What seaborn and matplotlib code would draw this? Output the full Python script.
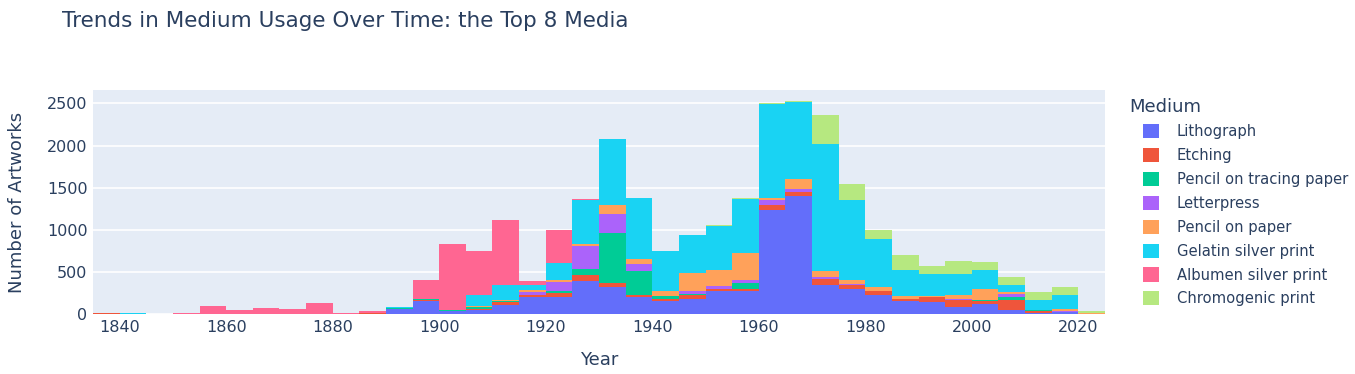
import matplotlib
matplotlib.use('Agg')
import matplotlib.pyplot as plt
import seaborn as sns
import pandas as pd
from matplotlib.patches import Patch

# 5-year bins, start years 1835 ... 2020
bin_starts = list(range(1835, 2025, 5))

media = ["Lithograph", "Etching", "Pencil on tracing paper", "Letterpress",
         "Pencil on paper", "Gelatin silver print", "Albumen silver print",
         "Chromogenic print"]
colors = ["#636EFA", "#EF553B", "#00CC96", "#AB63FA",
          "#FFA15A", "#19D3F3", "#FF6692", "#B6E880"]

lithograph = [0, 0, 0, 0, 0, 0, 0, 0, 0, 0, 0, 60, 160, 35, 52, 111, 206, 206, 397,
              326, 206, 159, 183, 270, 270, 1235, 1406, 348, 300, 229, 158, 146, 87,
              122, 51, 16, 28, 0]
etching = [10, 0, 0, 0, 0, 0, 0, 0, 0, 0, 12, 5, 12, 5, 12, 36, 24, 40, 64,
           40, 24, 24, 48, 32, 32, 60, 43, 71, 40, 40, 24, 59, 83,
           36, 119, 24, 0, 0]
tracing = [0, 0, 0, 0, 0, 0, 0, 0, 0, 0, 0, 3, 6, 12, 20, 12, 0, 24, 71,
           596, 286, 36, 12, 0, 64, 0, 0, 0, 0, 0, 0, 0, 0,
           12, 36, 12, 0, 0]
letterpress = [0, 0, 0, 0, 0, 0, 0, 0, 0, 0, 0, 0, 0, 0, 0, 0, 36, 115, 274,
               222, 75, 0, 36, 36, 32, 56, 36, 24, 20, 8, 0, 0, 12,
               0, 36, 0, 4, 0]
pencil_paper = [0, 0, 0, 0, 0, 0, 0, 0, 0, 0, 0, 0, 0, 0, 10, 10, 24, 24, 24,
                111, 67, 52, 206, 190, 326, 24, 119, 71, 47, 47, 36, 12, 47,
                130, 24, 0, 32, 12]
gelatin = [0, 10, 0, 0, 0, 0, 0, 0, 0, 0, 0, 20, 0, 0, 127, 179, 60, 195, 524,
           786, 715, 472, 453, 512, 639, 1120, 912, 1505, 948, 569, 308, 261, 249,
           225, 83, 119, 166, 0]
albumen = [0, 0, 0, 8, 100, 44, 67, 56, 127, 8, 20, 0, 220, 774, 533, 764, 36, 389, 12,
           0, 0, 0, 0, 0, 0, 0, 0, 0, 0, 0, 0, 0, 0,
           0, 0, 0, 0, 0]
chromogenic = [0, 0, 0, 0, 0, 0, 0, 0, 0, 0, 0, 0, 0, 0, 0, 0, 0, 0, 0,
               0, 0, 0, 0, 12, 12, 12, 12, 348, 190, 107, 178, 95, 154,
               95, 95, 95, 95, 28]

series = [lithograph, etching, tracing, letterpress, pencil_paper,
          gelatin, albumen, chromogenic]

rows = []
for name, vals in zip(media, series):
    for start, v in zip(bin_starts, vals):
        rows.append({"Year": start + 2.5, "Medium": name, "Count": v})
df = pd.DataFrame(rows)

TXT = "#2a3f5f"
sns.set_style("darkgrid", {"axes.facecolor": "#E5ECF6", "grid.color": "white"})
plt.rcParams['font.family'] = ['DejaVu Sans']

fig = plt.figure(figsize=(13.55, 3.74), dpi=100)
ax = fig.add_axes([93 / 1355, 60 / 374, 1012 / 1355, 224 / 374])

# seaborn stacks the last hue level at the bottom, so reverse the order
sns.histplot(data=df, x="Year", weights="Count", hue="Medium",
             hue_order=media[::-1], palette=dict(zip(media, colors)),
             multiple="stack", binwidth=5, binrange=(1835, 2025),
             linewidth=0, alpha=1, legend=False, ax=ax)

ax.set_xlim(1835, 2025)
ax.set_ylim(0, 2660)
ax.set_xticks(range(1840, 2021, 20))
ax.set_yticks(range(0, 2501, 500))
ax.grid(axis="x", visible=False)
ax.grid(axis="y", color="white", linewidth=1.2)
for s in ax.spines.values():
    s.set_visible(False)
ax.tick_params(length=0, labelsize=11.5, labelcolor=TXT, pad=4)
ax.set_xlabel("Year", fontsize=13, color=TXT, labelpad=12)
ax.set_ylabel("Number of Artworks", fontsize=13, color=TXT, labelpad=15)

fig.text(62 / 1355, 1 - 21 / 374, "Trends in Medium Usage Over Time: the Top 8 Media",
         fontsize=15.5, color=TXT, va="center", ha="left")

# legend: title placed separately so the entries can be indented
fig.text(1129 / 1355, 1 - 107 / 374, "Medium", fontsize=13, color=TXT,
         va="center", ha="left")
handles = [Patch(facecolor=c, edgecolor="none") for c in colors]
leg = fig.legend(handles, media, loc="upper left",
                 bbox_to_anchor=(1143 / 1355, 1 - 124 / 374), frameon=False,
                 fontsize=10.6, handlelength=1.1, handleheight=1.1,
                 handletextpad=1.2, labelspacing=0.6, borderaxespad=0,
                 borderpad=0)
for t in leg.get_texts():
    t.set_color(TXT)

plt.savefig("out.png", dpi=100)
plt.close()
